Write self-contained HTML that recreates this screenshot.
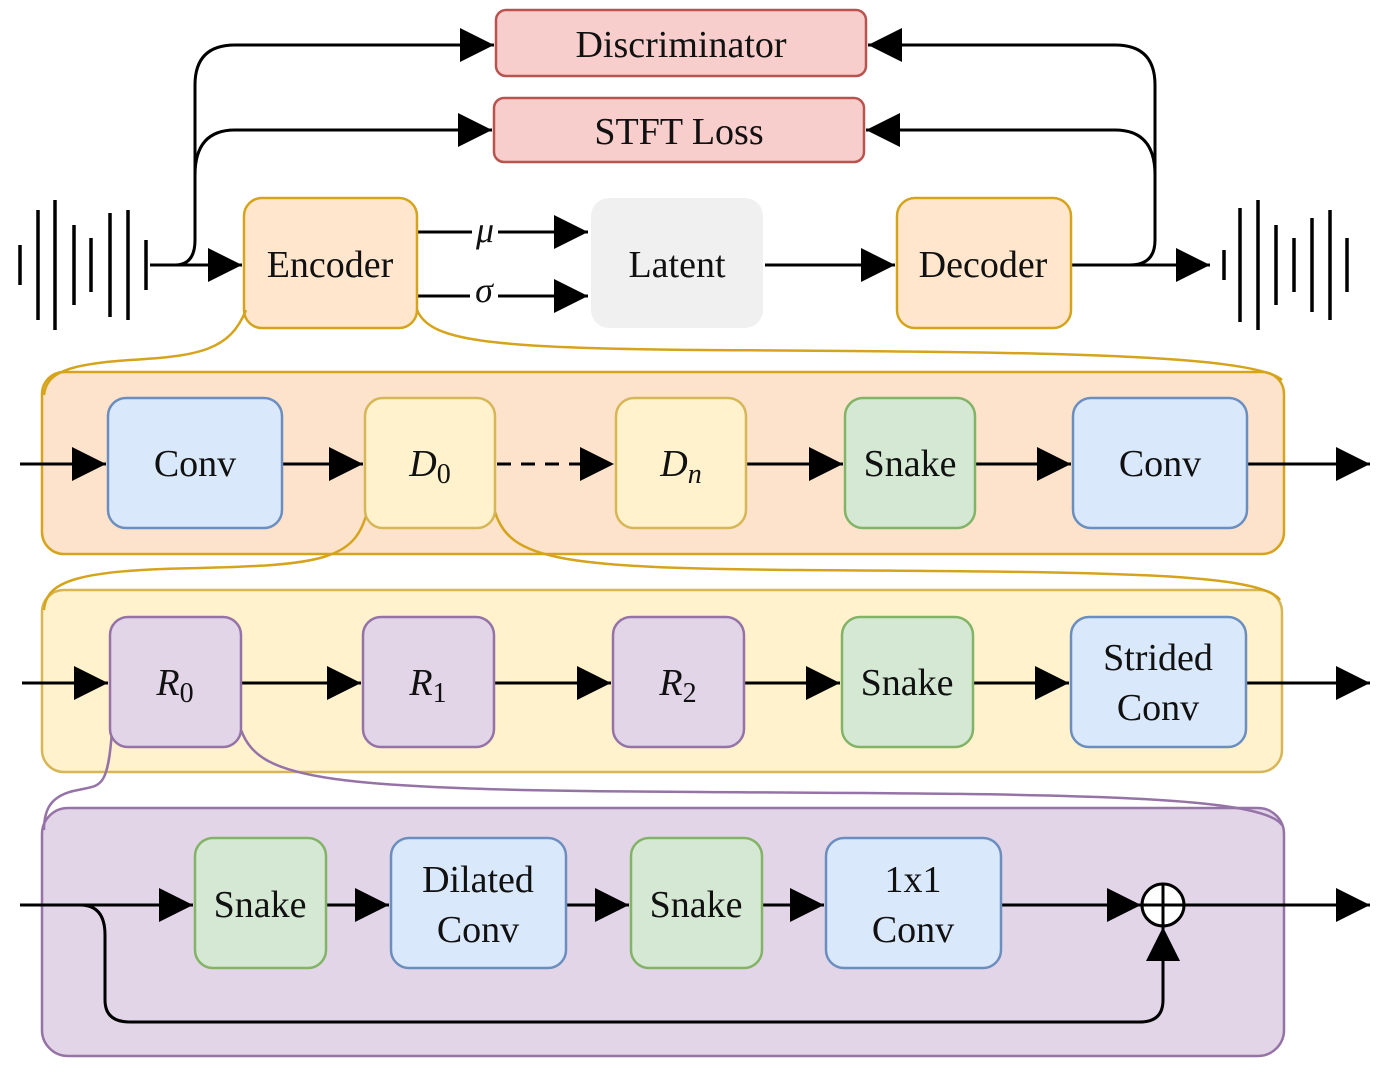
<!DOCTYPE html>
<html><head><meta charset="utf-8"><style>
html,body{margin:0;padding:0;background:#fff;}
svg{display:block;}
text{font-family:"Liberation Serif",serif;font-size:38px;fill:#111;text-anchor:middle;dominant-baseline:central;}
.i{font-style:italic;}
</style></head><body>
<svg width="1378" height="1080" viewBox="0 0 1378 1080" xmlns="http://www.w3.org/2000/svg">
<defs>
<marker id="a" markerUnits="userSpaceOnUse" markerWidth="36" markerHeight="34" refX="34" refY="17" orient="auto">
<path d="M0,0 L34,17 L0,34 Z" fill="#000"/></marker>
</defs>

<!-- top loops -->
<g fill="none" stroke="#000" stroke-width="3">
<path d="M150,265 H175 Q195,265 195,240 V85 Q195,45 235,45 H494" marker-end="url(#a)"/>
<path d="M195,175 Q195,130 235,130 H492" marker-end="url(#a)"/>
<path d="M1072,265 H1130 Q1155,265 1155,240 V85 Q1155,45 1115,45 H868" marker-end="url(#a)"/>
<path d="M1155,175 Q1155,130 1115,130 H866" marker-end="url(#a)"/>
<path d="M1072,265 H1210" marker-end="url(#a)"/>
<path d="M150,265 H242" marker-end="url(#a)"/>
<path d="M418,232 H472 M498,232 H588" marker-end="url(#a)"/>
<path d="M418,296 H470 M498,296 H588" marker-end="url(#a)"/>
<path d="M765,265 H895" marker-end="url(#a)"/>
</g>
<text x="485" y="230" class="i" style="font-size:36px">μ</text>
<text x="484" y="290" class="i" style="font-size:36px">σ</text>

<!-- waveforms -->
<g stroke="#000" stroke-width="3.5">
<line x1="20" y1="245" x2="20" y2="285"/><line x1="38" y1="210" x2="38" y2="320"/>
<line x1="55" y1="200" x2="55" y2="330"/><line x1="74" y1="225" x2="74" y2="305"/>
<line x1="91" y1="238" x2="91" y2="292"/><line x1="110" y1="213" x2="110" y2="317"/>
<line x1="128" y1="210" x2="128" y2="320"/><line x1="146" y1="240" x2="146" y2="290"/>
<line x1="1224" y1="250" x2="1224" y2="280"/><line x1="1240" y1="208" x2="1240" y2="322"/>
<line x1="1258" y1="200" x2="1258" y2="330"/><line x1="1276" y1="225" x2="1276" y2="305"/>
<line x1="1294" y1="238" x2="1294" y2="292"/><line x1="1312" y1="218" x2="1312" y2="312"/>
<line x1="1330" y1="210" x2="1330" y2="320"/><line x1="1347" y1="238" x2="1347" y2="292"/>
</g>

<!-- top boxes -->
<rect x="496" y="10" width="370" height="66" rx="10" fill="#f8cecc" stroke="#b85450" stroke-width="2.5"/>
<text x="681" y="45">Discriminator</text>
<rect x="494" y="98" width="370" height="64" rx="10" fill="#f8cecc" stroke="#b85450" stroke-width="2.5"/>
<text x="679" y="132">STFT Loss</text>
<rect x="244" y="198" width="173" height="130" rx="18" fill="#ffe6cc" stroke="#d6a41c" stroke-width="2.5"/>
<text x="330" y="265">Encoder</text>
<rect x="591" y="198" width="172" height="130" rx="18" fill="#f0f0f0"/>
<text x="677" y="265">Latent</text>
<rect x="897" y="198" width="174" height="130" rx="18" fill="#ffe6cc" stroke="#d6a41c" stroke-width="2.5"/>
<text x="983" y="265">Decoder</text>

<!-- containers -->
<rect x="42" y="372" width="1242" height="182" rx="22" fill="#fde3cc" stroke="#d6a41c" stroke-width="2.5"/>
<rect x="42" y="590" width="1240" height="182" rx="22" fill="#fff2cc" stroke="#d6b656" stroke-width="2.5"/>
<rect x="42" y="808" width="1242" height="248" rx="26" fill="#e1d5e7" stroke="#9673a6" stroke-width="2.5"/>

<!-- zoom connectors -->
<g fill="none" stroke-width="2.5">
<path d="M246,310 C230,350 200,356 130,360 C70,364 46,372 44,395" stroke="#d6a41c"/>
<path d="M417,310 C430,340 480,348 700,350 C1000,352 1250,352 1282,380" stroke="#d6a41c"/>
<path d="M367,512 C355,560 320,565 200,568 C80,570 46,580 44,610" stroke="#d6a41c"/>
<path d="M495,512 C510,560 560,568 800,570 C1100,572 1260,572 1280,600" stroke="#d6a41c"/>
<path d="M112,730 C108,790 100,785 78,790 C50,795 44,810 44,830" stroke="#9673a6"/>
<path d="M241,730 C260,780 320,790 700,792 C1050,794 1260,794 1282,825" stroke="#9673a6"/>
</g>

<!-- row1 -->
<g fill="none" stroke="#000" stroke-width="3">
<path d="M20,464 H106" marker-end="url(#a)"/>
<path d="M283,464 H363" marker-end="url(#a)"/>
<path d="M497,464 H614" stroke-dasharray="14,10" marker-end="url(#a)"/>
<path d="M747,464 H843" marker-end="url(#a)"/>
<path d="M976,464 H1071" marker-end="url(#a)"/>
<path d="M1248,464 H1370" marker-end="url(#a)"/>
</g>
<rect x="108" y="398" width="174" height="130" rx="18" fill="#dae8fc" stroke="#6c8ebf" stroke-width="2.5"/>
<text x="195" y="464">Conv</text>
<rect x="365" y="398" width="130" height="130" rx="18" fill="#fff2cc" stroke="#d6b656" stroke-width="2.5"/>
<text x="430" y="464" class="i">D<tspan style="font-style:normal;font-size:28px" dy="10">0</tspan></text>
<rect x="616" y="398" width="130" height="130" rx="18" fill="#fff2cc" stroke="#d6b656" stroke-width="2.5"/>
<text x="681" y="464" class="i">D<tspan style="font-size:28px" dy="10">n</tspan></text>
<rect x="845" y="398" width="130" height="130" rx="18" fill="#d5e8d4" stroke="#82b366" stroke-width="2.5"/>
<text x="910" y="464">Snake</text>
<rect x="1073" y="398" width="174" height="130" rx="18" fill="#dae8fc" stroke="#6c8ebf" stroke-width="2.5"/>
<text x="1160" y="464">Conv</text>

<!-- row2 -->
<g fill="none" stroke="#000" stroke-width="3">
<path d="M22,683 H108" marker-end="url(#a)"/>
<path d="M242,683 H361" marker-end="url(#a)"/>
<path d="M495,683 H611" marker-end="url(#a)"/>
<path d="M745,683 H840" marker-end="url(#a)"/>
<path d="M974,683 H1069" marker-end="url(#a)"/>
<path d="M1247,683 H1370" marker-end="url(#a)"/>
</g>
<rect x="110" y="617" width="131" height="130" rx="18" fill="#e1d5e7" stroke="#9673a6" stroke-width="2.5"/>
<text x="175" y="683" class="i">R<tspan style="font-style:normal;font-size:28px" dy="10">0</tspan></text>
<rect x="363" y="617" width="131" height="130" rx="18" fill="#e1d5e7" stroke="#9673a6" stroke-width="2.5"/>
<text x="428" y="683" class="i">R<tspan style="font-style:normal;font-size:28px" dy="10">1</tspan></text>
<rect x="613" y="617" width="131" height="130" rx="18" fill="#e1d5e7" stroke="#9673a6" stroke-width="2.5"/>
<text x="678" y="683" class="i">R<tspan style="font-style:normal;font-size:28px" dy="10">2</tspan></text>
<rect x="842" y="617" width="131" height="130" rx="18" fill="#d5e8d4" stroke="#82b366" stroke-width="2.5"/>
<text x="907" y="683">Snake</text>
<rect x="1071" y="617" width="175" height="130" rx="18" fill="#dae8fc" stroke="#6c8ebf" stroke-width="2.5"/>
<text x="1158" y="658">Strided</text>
<text x="1158" y="708">Conv</text>

<!-- row3 -->
<g fill="none" stroke="#000" stroke-width="3">
<path d="M20,905 H193" marker-end="url(#a)"/>
<path d="M60,905 H80 Q105,905 105,935 V1000 Q105,1022 130,1022 H1140 Q1163,1022 1163,1000 V927" marker-end="url(#a)"/>
<path d="M327,905 H389" marker-end="url(#a)"/>
<path d="M567,905 H629" marker-end="url(#a)"/>
<path d="M763,905 H824" marker-end="url(#a)"/>
<path d="M1002,905 H1141" marker-end="url(#a)"/>
<path d="M1185,905 H1370" marker-end="url(#a)"/>
</g>
<circle cx="1163" cy="905" r="21" fill="#fff" stroke="#000" stroke-width="3"/>
<path d="M1142,905 H1184 M1163,884 V926" stroke="#000" stroke-width="3"/>
<rect x="195" y="838" width="131" height="130" rx="18" fill="#d5e8d4" stroke="#82b366" stroke-width="2.5"/>
<text x="260" y="905">Snake</text>
<rect x="391" y="838" width="175" height="130" rx="18" fill="#dae8fc" stroke="#6c8ebf" stroke-width="2.5"/>
<text x="478" y="880">Dilated</text>
<text x="478" y="930">Conv</text>
<rect x="631" y="838" width="131" height="130" rx="18" fill="#d5e8d4" stroke="#82b366" stroke-width="2.5"/>
<text x="696" y="905">Snake</text>
<rect x="826" y="838" width="175" height="130" rx="18" fill="#dae8fc" stroke="#6c8ebf" stroke-width="2.5"/>
<text x="913" y="880">1x1</text>
<text x="913" y="930">Conv</text>
</svg>
</body></html>
